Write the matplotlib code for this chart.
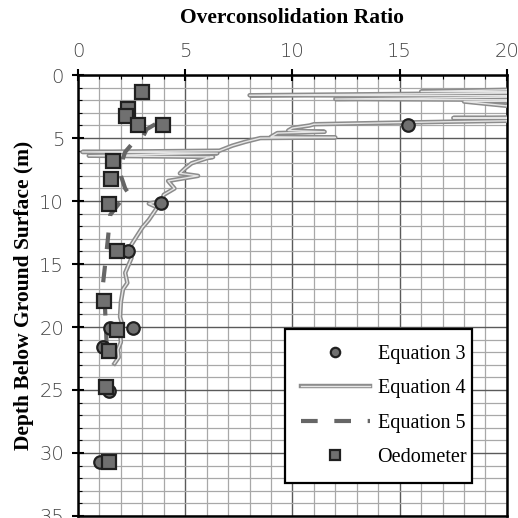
import matplotlib
matplotlib.use("Agg")
import matplotlib.pyplot as plt
import matplotlib.patheffects as pe
from matplotlib.ticker import MultipleLocator

# Equation 3 (circles): OCR vs depth (m)
eq3_ocr = [15.4, 3.87, 2.33, 2.56, 1.5, 1.16, 1.45, 1.03]
eq3_depth = [3.97, 10.15, 14.0, 20.1, 20.1, 21.6, 25.1, 30.7]

# Oedometer (squares)
oed_ocr = [3.0, 2.33, 2.24, 2.8, 3.96, 1.63, 1.54, 1.45, 1.8, 1.2, 1.8, 1.45, 1.3, 1.45]
oed_depth = [1.35, 2.7, 3.25, 3.97, 3.97, 6.8, 8.25, 10.2, 14.0, 17.9, 20.2, 21.9, 24.75, 30.7]

# Equation 4 (CPT based, jagged profile)
eq4_depth = [1.0, 1.3, 1.35, 1.6, 1.65, 1.9, 2.0, 2.1, 3.3, 3.4, 3.5, 3.7, 3.8, 3.9,
             4.0, 4.2, 4.4, 4.5, 4.6, 4.9, 4.95, 5.0, 5.3, 5.6, 6.0, 6.1, 6.2, 6.4,
             6.5, 6.6, 7.0, 7.4, 7.8, 8.0, 8.2, 8.4, 8.6, 9.0, 9.5, 10.0, 10.2, 10.5,
             11.0, 11.5, 12.1, 12.9, 13.7, 14.5, 15.7, 16.5, 17.0, 18.0, 19.2, 20.0,
             20.5, 21.2, 21.8, 22.4, 22.9]
eq4_ocr = [25, 16, 25, 8.0, 25, 12, 25, 18, 25, 17.5, 25, 17.3, 14, 11,
           10.8, 10.0, 9.8, 11.5, 9.3, 9.0, 12, 8.5, 7.8, 7.2, 6.6, 0.2, 6.5, 0.5,
           6.3, 6.0, 5.3, 5.0, 4.75, 5.6, 4.9, 4.2, 4.3, 4.5, 4.0, 3.9, 3.3, 3.7,
           3.5, 3.3, 3.0, 2.7, 2.4, 2.5, 2.2, 2.3, 2.1, 2.0, 1.96, 2.1,
           1.96, 2.0, 1.86, 1.9, 1.7]

# Equation 5 (dashed)
eq5_depth = [3.9, 4.3, 5.0, 5.5, 6.1, 6.6, 8.0, 9.0, 9.5, 10.0, 11.1, 12.9, 14.5,
             16.5, 18.5, 20.0, 22.0]
eq5_ocr = [3.6, 3.2, 3.0, 2.5, 2.2, 2.1, 2.0, 2.2, 2.4, 2.0, 1.5, 1.4, 1.3,
           1.17, 1.26, 1.3, 1.35]

serif = "Liberation Serif"

fig = plt.figure(figsize=(5.18, 5.18), dpi=100, facecolor="white")
ax = fig.add_axes([0.1506, 0.004, 0.828, 0.851])

# Equation 4: light line with a grey outline
ax.plot(eq4_ocr, eq4_depth, color="#e6e6e6", linewidth=1.0, label="Equation 4",
        path_effects=[pe.Stroke(linewidth=3.2, foreground="#8c8c8c"), pe.Normal()],
        zorder=3)
ax.plot(eq5_ocr, eq5_depth, color="#666666", linewidth=3.0, dashes=(4, 4),
        label="Equation 5", zorder=3)
ax.plot(eq3_ocr, eq3_depth, linestyle="none", marker="o", markersize=9,
        markerfacecolor="#707070", markeredgecolor="#202020", markeredgewidth=1.6,
        label="Equation 3", zorder=4)
ax.plot(oed_ocr, oed_depth, linestyle="none", marker="s", markersize=10,
        markerfacecolor="#707070", markeredgecolor="#202020", markeredgewidth=1.6,
        label="Oedometer", zorder=5)

ax.set_xlim(0, 20)
ax.set_ylim(35, 0)
ax.xaxis.set_ticks_position("top")
ax.xaxis.set_label_position("top")
ax.xaxis.set_major_locator(MultipleLocator(5))
ax.xaxis.set_minor_locator(MultipleLocator(1))
ax.yaxis.set_major_locator(MultipleLocator(5))
ax.yaxis.set_minor_locator(MultipleLocator(1))

ax.grid(which="major", color="#5a5a5a", linewidth=1.0, zorder=0)
ax.grid(which="minor", color="#a8a8a8", linewidth=0.9, zorder=0)
ax.set_axisbelow(True)

for s in ax.spines.values():
    s.set_linewidth(1.8)
    s.set_color("black")

ax.tick_params(which="major", direction="inout", length=8, width=1.5,
               labelsize=14, labelcolor="#444444", pad=6)
ax.tick_params(which="minor", direction="in", length=3, width=0.8)
for lbl in ax.get_xticklabels() + ax.get_yticklabels():
    lbl.set_family("DejaVu Sans")
    lbl.set_fontweight("light")

ax.set_xlabel("Overconsolidation Ratio", family=serif, fontweight="bold",
              fontsize=15.5, labelpad=14)
ax.set_ylabel("Depth Below Ground Surface (m)", family=serif, fontweight="bold",
              fontsize=15.5, labelpad=4)

handles, labels = ax.get_legend_handles_labels()
order = [2, 0, 1, 3]
leg = ax.legend([handles[i] for i in order], [labels[i] for i in order],
                loc="lower left", bbox_to_anchor=(0.459, 0.052, 0.483, 0.363),
                mode="expand", prop={"family": serif, "size": 14.5},
                frameon=True, fancybox=False, framealpha=1, edgecolor="black",
                handlelength=3.4, labelspacing=0.75, borderpad=0.8,
                markerscale=0.75, handletextpad=0.4)
leg.get_frame().set_linewidth(1.6)

fig.savefig("out.png", dpi=100, facecolor="white")
